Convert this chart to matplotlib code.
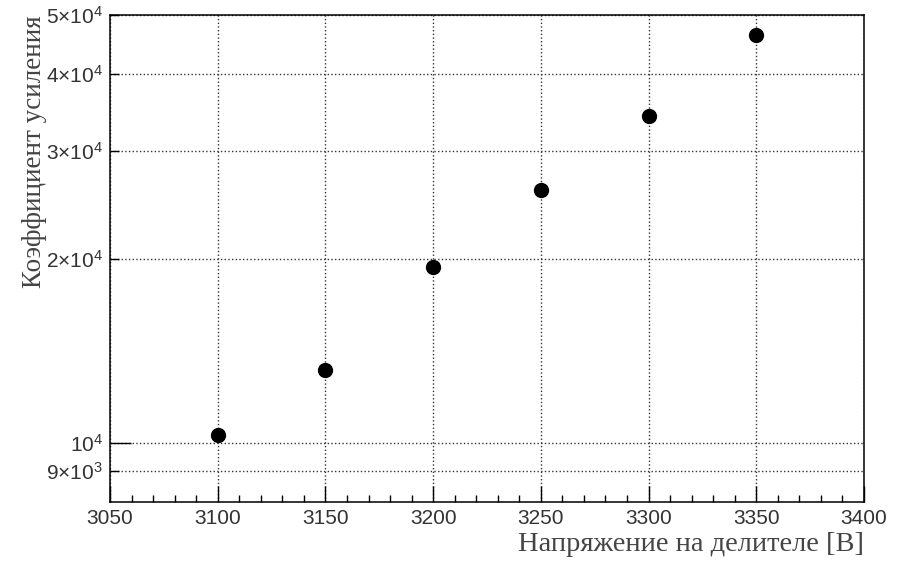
import numpy as np
import matplotlib.pyplot as plt
from matplotlib.ticker import FixedLocator, FixedFormatter, MultipleLocator

# Gain vs. divider voltage
voltage = [3100, 3150, 3200, 3250, 3300, 3350]
gain = [10300, 13150, 19400, 25900, 34200, 46400]

y_major = [1e4]
y_minor = [9e3, 2e4, 3e4, 4e4, 5e4]
y_minor_labels = ['9×10$^{3}$', '2×10$^{4}$', '3×10$^{4}$',
                  '4×10$^{4}$', '5×10$^{4}$']

plt.rcParams['font.family'] = ['Liberation Sans', 'DejaVu Sans']
plt.rcParams['mathtext.fontset'] = 'custom'
plt.rcParams['mathtext.rm'] = 'Liberation Sans'
plt.rcParams['mathtext.it'] = 'Liberation Sans'
plt.rcParams['mathtext.default'] = 'regular'

fig = plt.figure(figsize=(9, 5.65), dpi=100)
ax = fig.add_axes([0.1222, 0.1115, 0.8378, 0.862])

ax.plot(voltage, gain, 'o', color='black', markersize=10, zorder=3)

ax.set_yscale('log')
ax.set_xlim(3050, 3400)
ax.set_ylim(8010, 5e4)

ax.xaxis.set_major_locator(MultipleLocator(50))
ax.xaxis.set_minor_locator(MultipleLocator(10))
ax.yaxis.set_major_locator(FixedLocator(y_major))
ax.yaxis.set_major_formatter(FixedFormatter(['10$^{4}$']))
ax.yaxis.set_minor_locator(FixedLocator(y_minor))
ax.yaxis.set_minor_formatter(FixedFormatter(y_minor_labels))

ax.tick_params(axis='both', which='both', direction='in', labelsize=15,
               labelcolor='#333333', colors='black', width=1,
               top=False, right=False)
ax.tick_params(axis='x', which='major', length=11.5, pad=5)
ax.tick_params(axis='x', which='minor', length=5)
ax.tick_params(axis='y', which='major', length=15, pad=5)
ax.tick_params(axis='y', which='minor', length=6.5, pad=5)

ax.grid(True, which='major', axis='x', linestyle=':', color='#333333', linewidth=1)
ax.grid(True, which='both', axis='y', linestyle=':', color='#333333', linewidth=1)

for s in ax.spines.values():
    s.set_linewidth(1.1)

serif = ['Liberation Serif', 'DejaVu Serif']
ax.set_xlabel('Напряжение на делителе [В]', loc='right', family=serif,
              fontsize=20.5, color='#444444')
ax.set_ylabel('Коэффициент усиления', loc='top', family=serif,
              fontsize=19.5, color='#444444')
ax.xaxis.set_label_coords(1.0, -0.062)
ax.yaxis.set_label_coords(-0.083, 1.0)

fig.savefig('out.png', dpi=100)
